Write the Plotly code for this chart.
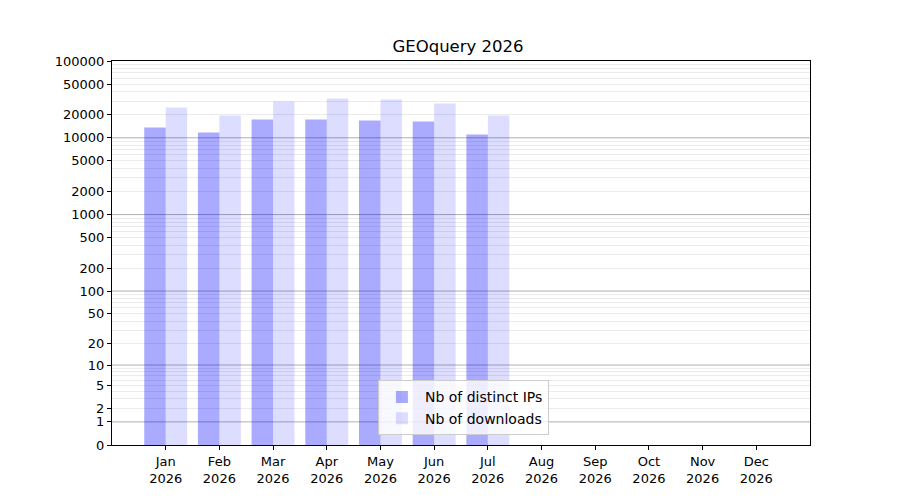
import numpy as np
import plotly.graph_objects as go

# monthly stats (Aug-Dec not reported yet)
months = ["Jan", "Feb", "Mar", "Apr", "May", "Jun", "Jul", "Aug", "Sep", "Oct", "Nov", "Dec"]
year = 2026
distinct_ips = [13600, 11700, 17300, 17300, 16800, 16300, 11000, 0, 0, 0, 0, 0]
downloads = [24800, 19500, 29600, 32400, 31500, 27900, 19500, 0, 0, 0, 0, 0]

y_ticks = [0, 1, 2, 5, 10, 20, 50, 100, 200, 500, 1000, 2000, 5000, 10000, 20000, 50000, 100000]
decades = [1, 10, 100, 1000, 10000]


def tr(v):
    # log10(1 + n) scale as in the original plot
    return np.log10(1 + np.asarray(v, dtype=float))


minor_vals = [m * 10**e for e in range(0, 5) for m in range(2, 10)]
x = list(range(1, 13))
ticktext = [f"{m}<br>{year}" for m in months]

fig = go.Figure()
fig.add_trace(go.Bar(x=x, y=tr(distinct_ips), name="Nb of distinct IPs",
                     marker=dict(color="rgba(0,0,255,0.333)", line=dict(width=0)),
                     customdata=distinct_ips, hovertemplate="%{customdata}"))
fig.add_trace(go.Bar(x=x, y=tr(downloads), name="Nb of downloads",
                     marker=dict(color="rgba(0,0,255,0.135)", line=dict(width=0)),
                     customdata=downloads, hovertemplate="%{customdata}"))

for d in decades:
    fig.add_hline(y=float(tr(d)), line=dict(color="#b0b0b0", width=1), layer="below")

fig.update_layout(
    width=900, height=500,
    margin=dict(l=104, r=98, t=53, b=63),
    paper_bgcolor="white", plot_bgcolor="white",
    font=dict(family="DejaVu Sans", size=13, color="black"),
    title=dict(text=f"GEOquery {year}", x=0.5, xanchor="center", y=0.924, yanchor="middle",
               font=dict(size=16.5)),
    barmode="group", bargap=0.2, bargroupgap=0,
    showlegend=True,
    legend=dict(x=0.381, y=0.025, xanchor="left", yanchor="bottom",
                bgcolor="rgba(255,255,255,0.8)", bordercolor="#cccccc", borderwidth=1,
                font=dict(size=14), traceorder="normal", itemwidth=36),
)
fig.update_xaxes(
    range=[0, 13], tickmode="array", tickvals=x, ticktext=ticktext,
    showgrid=False, zeroline=False, automargin=False,
    showline=True, linecolor="black", linewidth=1, mirror=True,
    ticks="outside", ticklen=4, tickcolor="black",
)
fig.update_yaxes(
    range=[0, float(tr(100000))], tickmode="array",
    tickvals=[float(v) for v in tr(y_ticks)], ticktext=[str(t) for t in y_ticks],
    showgrid=False, zeroline=False, automargin=False,
    showline=True, linecolor="black", linewidth=1, mirror=True,
    ticks="outside", ticklen=4, tickcolor="black",
    minor=dict(tickmode="array", tickvals=[float(v) for v in tr(minor_vals)],
               showgrid=True, gridcolor="#ebebeb", gridwidth=1, ticks=""),
)

fig.write_html("out.html")
